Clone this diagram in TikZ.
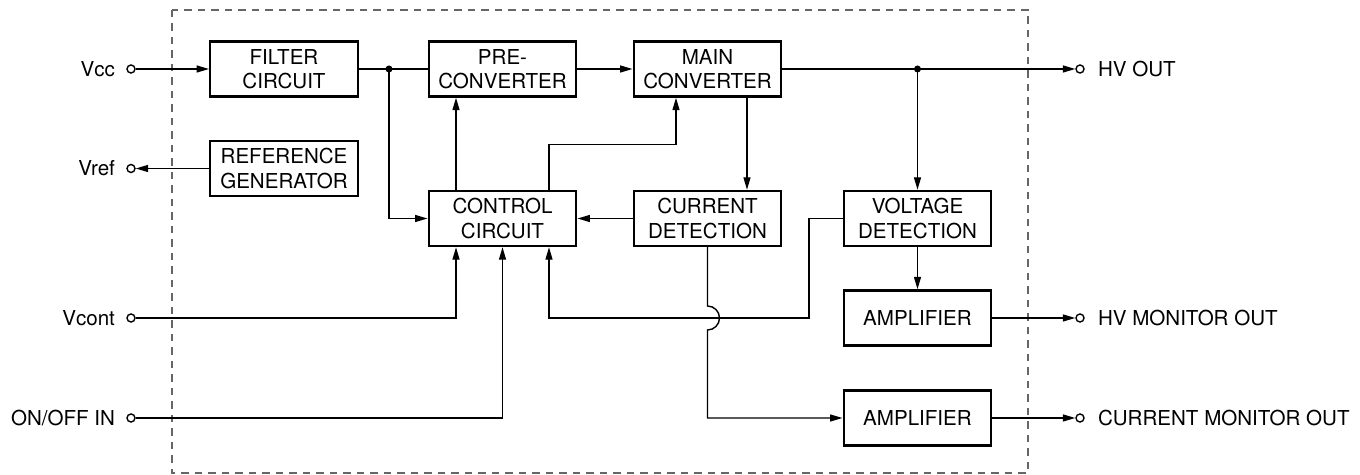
\documentclass[tikz,border=0pt]{standalone}
\usepackage{fontspec}
\setmainfont{TeX Gyre Heros}
\usetikzlibrary{positioning,arrows.meta}
\newcommand{\hvarrowstyle}{-{Triangle[length=2.5mm,width=1.4mm]}}

\begin{document}
\begin{tikzpicture}[
    x=0.02cm, y=-0.02cm,
    font=\fontsize{11.7}{13.7}\selectfont,
    sig/.style={\hvarrowstyle, line width=0.8pt},
    wire/.style={line width=0.8pt},
    blk/.style={draw, line width=1.4pt, minimum width=2.95cm, minimum height=1.1cm, inner sep=0pt, align=center},
    term/.style={draw, circle, line width=0.8pt, minimum size=1.6mm, inner sep=0pt, fill=white},
    pinlbl/.style={inner sep=0pt},
    junct/.style={circle, fill, minimum size=1.4mm, inner sep=0pt},
    frame/.style={draw=black!60, line width=0.7pt, dash pattern=on 0.15cm off 0.12cm}
]
  \def\tap{0.93cm}
  \useasboundingbox (0,0) rectangle (1360,475);

  % module outline
  \draw[frame] (172,10) rectangle (1028,473);

  % blocks
  \node[blk] (filt) at (284,69) {FILTER\\CIRCUIT};
  \node[blk] (pre) at (502.5,69) {PRE-\\CONVERTER};
  \node[blk] (main) at (707.5,69) {MAIN\\CONVERTER};
  \node[blk] (refgen) at (284,168.5) {REFERENCE\\GENERATOR};
  \node[blk] (ctrl) at (502.5,218.5) {CONTROL\\CIRCUIT};
  \node[blk] (curdet) at (707.5,218.5) {CURRENT\\DETECTION};
  \node[blk] (voltdet) at (917.5,218.5) {VOLTAGE\\DETECTION};
  \node[blk] (amphv) at (917.5,318) {AMPLIFIER};
  \node[blk] (ampcur) at (917.5,418) {AMPLIFIER};

  % pins
  \node[term] (vcc) at (131,69) {};
  \node[term] (vref) at (131,168.5) {};
  \node[term] (vcont) at (131,318) {};
  \node[term] (onoff) at (131,418) {};
  \node[term] (hvout) at (1080,69) {};
  \node[term] (hvmon) at (1080,318) {};
  \node[term] (curmon) at (1080,418) {};

  \node[pinlbl, left=0.22cm of vcc] (vcc-l) {Vcc};
  \node[pinlbl, left=0.22cm of vref] (vref-l) {Vref};
  \node[pinlbl, left=0.22cm of vcont] (vcont-l) {Vcont};
  \node[pinlbl, left=0.22cm of onoff] (onoff-l) {ON/OFF IN};
  \node[pinlbl, right=0.26cm of hvout] (hvout-l) {HV OUT};
  \node[pinlbl, right=0.26cm of hvmon] (hvmon-l) {HV MONITOR OUT};
  \node[pinlbl, right=0.26cm of curmon] (curmon-l) {CURRENT MONITOR OUT};

  % power path
  \node[junct] (ja) at (389,69) {};
  \node[junct] (jb) at (voltdet.north |- main.east) {};
  \draw[sig] (vcc) -- (filt);
  \draw[wire] (filt) -- (pre);
  \draw[sig] (ja.center) |- (ctrl.west);
  \draw[sig] (pre) -- (main);
  \draw[sig] (main) -- (hvout);
  \draw[sig] (jb.center) -- (voltdet.north);
  \draw[sig] (refgen) -- (vref);

  % control loop
  \draw[sig] ([xshift=-\tap]ctrl.north) -- ([xshift=-\tap]pre.south);
  \draw[sig] ([xshift=\tap]ctrl.north) |- ([xshift=-0.63cm,yshift=-0.94cm]main.south) -- ([xshift=-0.63cm]main.south);
  \draw[sig] ([xshift=0.79cm]main.south) -- ([xshift=0.79cm]curdet.north);
  \draw[sig] (curdet) -- (ctrl);

  \coordinate (fbturn) at (809,318);
  \coordinate (hop) at (curdet.south |- fbturn);
  \draw[sig] (voltdet.west) -| (fbturn) -| ([xshift=\tap]ctrl.south);
  \draw[sig] (curdet.south) -- ([yshift=0.24cm]hop)
    arc[start angle=90, end angle=-90, radius=0.24cm] |- (ampcur.west);

  \draw[sig] (vcont) -| ([xshift=-\tap]ctrl.south);
  \draw[sig] (onoff) -| (ctrl.south);

  % monitor outputs
  \draw[sig] (voltdet) -- (amphv);
  \draw[sig] (amphv) -- (hvmon);
  \draw[sig] (ampcur) -- (curmon);
\end{tikzpicture}
\end{document}
